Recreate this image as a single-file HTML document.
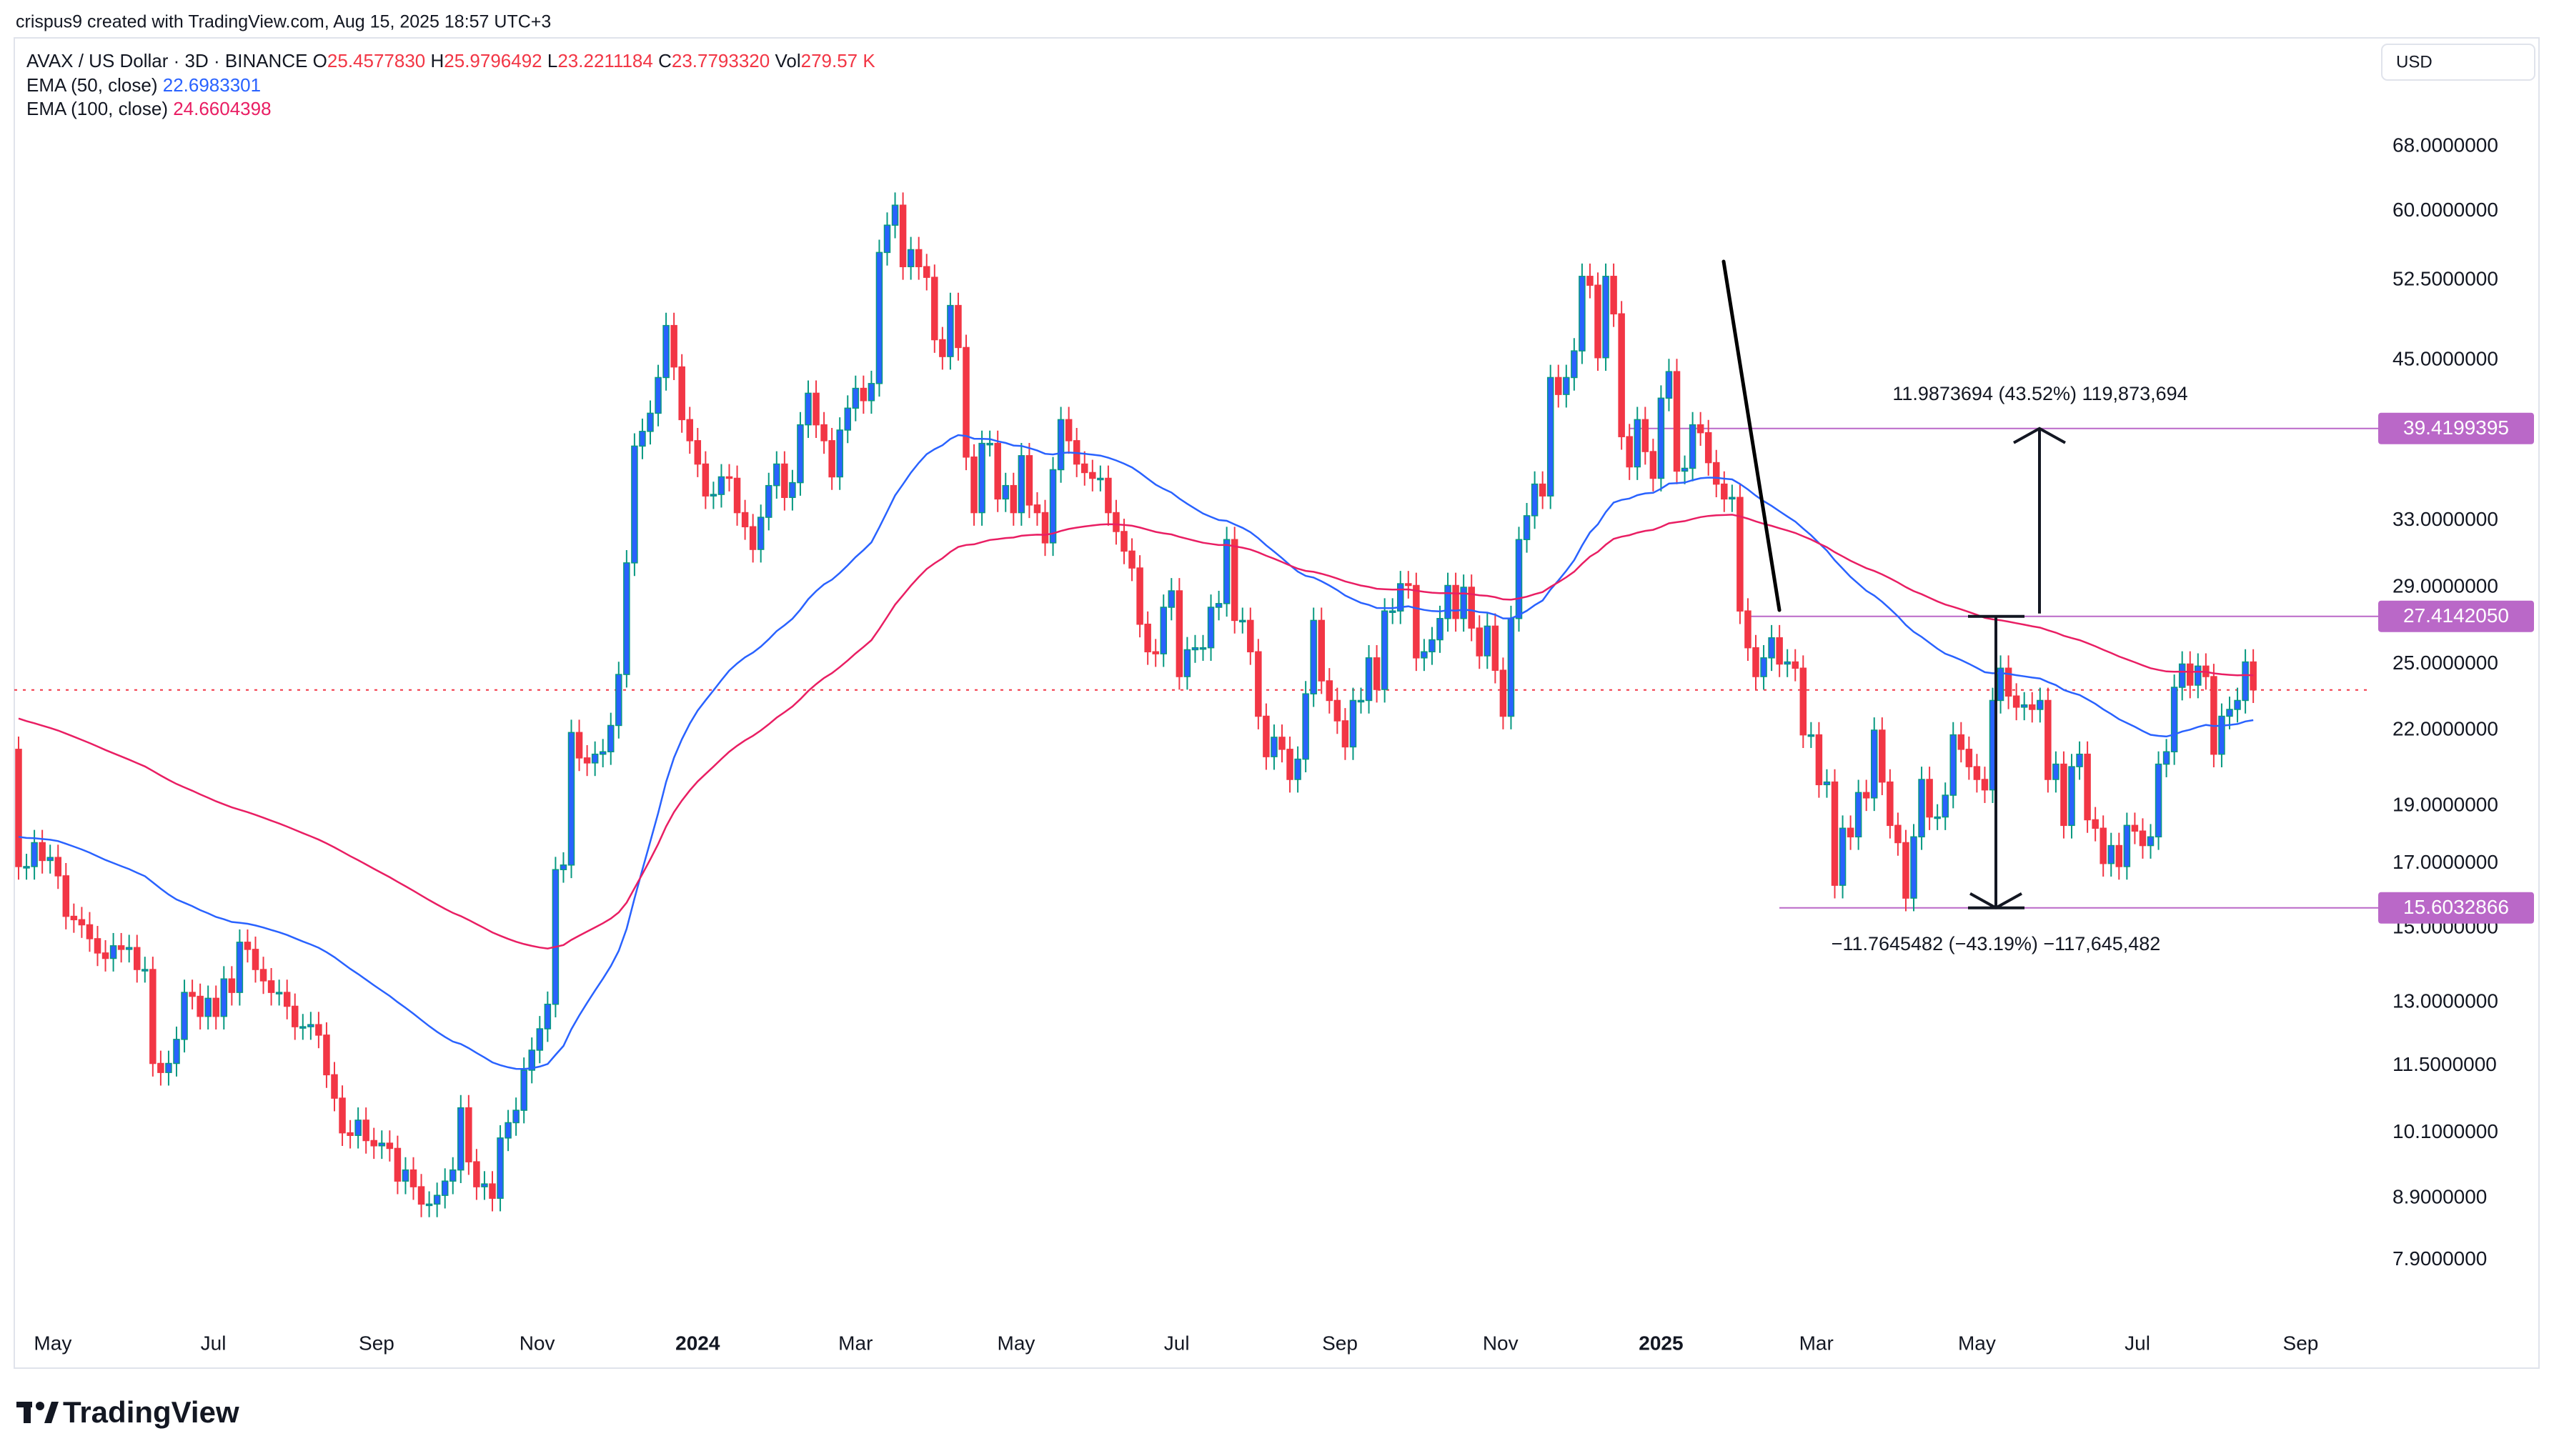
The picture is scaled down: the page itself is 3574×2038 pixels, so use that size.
<!DOCTYPE html>
<html><head><meta charset="utf-8"><style>
html,body{margin:0;padding:0;background:#fff;}
svg{display:block;font-family:"Liberation Sans",sans-serif;}
</style></head><body>
<svg id="chart" width="3574" height="2038" viewBox="0 0 3574 2038" xmlns="http://www.w3.org/2000/svg">
<rect x="0" y="0" width="3574" height="2038" fill="#ffffff"/>
<text x="22" y="32" font-size="25" fill="#131722" dominant-baseline="middle">crispus9 created with TradingView.com, Aug 15, 2025 18:57 UTC+3</text>
<rect x="20" y="53" width="3533" height="1862" fill="none" stroke="#e0e3eb" stroke-width="2"/>
<g id="grid"></g>
<text x="37" y="87" font-size="26" fill="#131722" dominant-baseline="middle">AVAX / US Dollar · 3D · BINANCE  O<tspan fill="#f23645">25.4577830</tspan>  H<tspan fill="#f23645">25.9796492</tspan>  L<tspan fill="#f23645">23.2211184</tspan>  C<tspan fill="#f23645">23.7793320</tspan>  Vol<tspan fill="#f23645">279.57 K</tspan></text>
<text x="37" y="121" font-size="26" fill="#131722" dominant-baseline="middle">EMA (50, close)  <tspan fill="#2962ff">22.6983301</tspan></text>
<text x="37" y="154" font-size="26" fill="#131722" dominant-baseline="middle">EMA (100, close)  <tspan fill="#e91e63">24.6604398</tspan></text>
<rect x="3333" y="62" width="214" height="50" rx="8" fill="#fff" stroke="#e0e3eb" stroke-width="2"/>
<text x="3353" y="88" font-size="24" fill="#131722" dominant-baseline="middle">USD</text>
<g>
<rect x="23" y="1962" width="22" height="8" fill="#131722"/>
<rect x="33" y="1962" width="10" height="30" fill="#131722"/>
<circle cx="56" cy="1968" r="6" fill="#131722"/>
<polygon points="62,1992 72,1962 82,1962 72,1992" fill="#131722"/>
<text x="88" y="1980" font-size="42" font-weight="bold" fill="#131722" dominant-baseline="middle">TradingView</text>
</g>
</svg>
<script>
const closes = [
16.9,16.9,17.7,17.1,17.2,16.6,15.35,15.25,15.1,14.7,
14.3,14.15,14.5,14.4,14.45,13.85,13.85,11.55,11.35,11.55,
12.1,13.25,13.15,12.65,13.1,12.65,13.6,13.25,14.6,14.4,
13.85,13.55,13.25,13.25,12.9,12.4,12.4,12.45,12.2,11.3,
10.8,10.1,10.05,10.35,9.95,9.85,9.9,9.8,9.2,9.4,
9.1,8.8,8.8,8.95,9.2,9.4,10.6,9.55,9.1,9.15,
8.9,10.0,10.3,10.55,11.4,11.85,12.35,12.95,16.8,16.95,
21.9,20.85,20.65,21.0,21.1,22.2,24.5,30.4,38.1,39.2,
40.6,43.5,48.1,44.4,40.1,38.5,36.8,34.6,34.7,35.9,
35.8,33.5,32.6,31.2,33.2,35.3,36.8,34.5,35.5,39.7,
42.2,39.7,38.5,35.9,39.3,41.0,42.6,41.6,43.0,55.4,
58.4,60.7,53.9,55.7,53.9,52.8,46.8,45.3,50.0,46.1,
37.3,33.5,38.3,38.3,34.4,35.3,33.5,37.4,34.0,33.5,
31.6,36.4,40.1,38.5,36.8,36.2,35.8,35.8,33.5,32.3,
31.1,30.1,27.0,25.6,25.5,27.9,28.8,24.4,25.7,25.8,
25.8,27.9,28.1,31.8,27.2,27.2,25.6,
22.6,20.9,21.7,21.2,20.0,20.8,23.6,27.2,24.2,23.3,
22.4,21.3,23.3,23.3,25.3,23.8,27.7,27.7,29.2,29.1,
25.3,25.6,26.2,27.3,29.1,27.3,29.0,26.8,25.4,26.9,
24.7,22.6,27.3,31.8,33.3,35.4,34.6,43.5,42.1,43.5,
45.8,52.9,52.0,45.2,52.9,49.2,38.8,36.6,40.1,37.7,
35.8,41.8,44.0,36.3,36.5,39.7,39.1,36.9,35.4,34.4,
34.5,27.7,25.8,24.4,25.3,26.3,25.0,25.1,24.8,21.8,
21.8,19.8,19.9,16.3,18.2,17.9,19.5,
19.3,22.0,19.9,18.3,17.7,15.9,17.9,20.0,18.6,18.6,
19.4,21.8,21.2,20.5,20.0,19.6,23.3,24.8,23.5,23.0,
23.1,22.9,23.3,20.0,20.6,18.3,20.5,21.0,18.5,18.2,
17.0,17.6,16.9,18.3,18.1,17.6,17.9,20.6,21.1,23.9,
25.0,24.0,24.9,24.4,21.0,22.6,22.9,23.3,25.1,23.78
];
const firstOpen = 21.2;
const emaSeeds = [17.9, 22.5];
const priceTicks = [68,60,52.5,45,33,29,25,22,19,17,15,13,11.5,10.1,8.9,7.9];
const timeTickDates = ["2023-05-01","2023-07-01","2023-09-01","2023-11-01","2024-01-01","2024-03-01","2024-05-01","2024-07-01","2024-09-01","2024-11-01","2025-01-01","2025-03-01","2025-05-01","2025-07-01","2025-09-01"];
const timeTickLabels = ["May","Jul","Sep","Nov","2024","Mar","May","Jul","Sep","Nov","2025","Mar","May","Jul","Sep"];
const levels = [39.4199395, 27.4142050, 15.6032866];
const levelLabels = ["39.4199395","27.4142050","15.6032866"];
const lastPrice = 23.7793320;
const lastDate = "2025-08-14";

const NS = "http://www.w3.org/2000/svg";
const svg = document.getElementById('chart');
const g = document.getElementById('grid');
const N = closes.length;
const X0 = 26, STEP = 11.05;
function xOf(i){ return X0 + i*STEP; }
function yOf(p){ return 205 + 724*Math.log(68/p); }
function xOfDate(s){
  const d = (Date.parse(lastDate) - Date.parse(s))/86400000;
  return xOf(N-1) - d/3*STEP;
}
function mk(tag, attrs, parent){
  const e = document.createElementNS(NS, tag);
  for (const k in attrs) e.setAttribute(k, attrs[k]);
  (parent||g).appendChild(e);
  return e;
}

priceTicks.forEach(function(p){
  const t = mk('text', {x:3348, y:yOf(p), 'font-size':28, fill:'#131722', 'dominant-baseline':'middle'}, svg);
  
  
  t.textContent = p.toFixed(7);
});
timeTickDates.forEach(function(d, k){
  const isYear = /^\d{4}$/.test(timeTickLabels[k]);
  const t = mk('text', {x:xOfDate(d), y:1882, 'font-size':28, fill:'#131722', 'text-anchor':'middle', 'dominant-baseline':'middle', 'font-weight': isYear?'bold':'normal'}, svg);
  
  
  t.textContent = timeTickLabels[k];
});

const lp = mk('line', {x1:20, x2:3320, y1:yOf(lastPrice), y2:yOf(lastPrice), stroke:'#f23645', 'stroke-width':2, 'stroke-dasharray':'4 8'});



const levelStarts = [2280, 2449, 2490];
levels.forEach(function(v, k){
  const l = mk('line', {x1:levelStarts[k], x2:3328, y1:yOf(v), y2:yOf(v), stroke:'#ba68c8', 'stroke-width':2});
  
  
});

for (let i=0;i<N;i++){
  const o = i===0 ? firstOpen : closes[i-1];
  const c = closes[i];
  const up = c >= o;
  const hi = Math.max(o,c)*1.025, lo = Math.min(o,c)*0.975;
  const x = xOf(i);
  const col = up ? '#089981' : '#f23645';
  const w = mk('line', {x1:x, x2:x, y1:yOf(hi), y2:yOf(lo), stroke:col, 'stroke-width':2});
  
  
  const yt = yOf(Math.max(o,c)), yb = yOf(Math.min(o,c));
  const b = mk('rect', {x:x-4, y:yt, width:8, height:Math.max(2, yb-yt), fill: up?'#2962ff':'#f23645', stroke:col, 'stroke-width':1.5});
  
  
}

function ema(period, seed){
  const a = 2/(period+1); let e = seed; const out=[];
  for (let i=0;i<N;i++){ e = i===0 ? seed : e + a*(closes[i]-e); out.push(e); }
  return out;
}
[[50,emaSeeds[0],'#2962ff','ema50-line'],[100,emaSeeds[1],'#e91e63','ema100-line']].forEach(function(s){
  const v = ema(s[0], s[1]);
  const d = v.map(function(p,i){ return (i?'L':'M')+xOf(i).toFixed(1)+' '+yOf(p).toFixed(1); }).join(' ');
  const pth = mk('path', {d:d, fill:'none', stroke:s[2], 'stroke-width':2.5});
  
  
});

const tl = mk('line', {x1:2412, y1:366, x2:2490, y2:854, stroke:'#000', 'stroke-width':5, 'stroke-linecap':'round'});



const yTop = yOf(levels[0]), yMid = yOf(levels[1]), yBot = yOf(levels[2]);
const m1 = mk('path', {d:'M2754 '+yMid+' H2833 M2793 '+yMid+' V'+yBot+' M2754 '+yBot+' H2833 M2757 '+(yBot-20)+' L2793 '+yBot+' L2829 '+(yBot-20), fill:'none', stroke:'#131722', 'stroke-width':4});


const m2 = mk('path', {d:'M2854 '+(yMid-4)+' V'+yTop+' M2818 '+(yTop+20)+' L2854 '+yTop+' L2890 '+(yTop+20), fill:'none', stroke:'#131722', 'stroke-width':4});


const t1 = mk('text', {x:2855, y:yTop-47, 'font-size':27, fill:'#131722', 'text-anchor':'middle', 'dominant-baseline':'middle'});


t1.textContent = '11.9873694 (43.52%) 119,873,694';
const t2 = mk('text', {x:2793, y:yBot+52, 'font-size':27, fill:'#131722', 'text-anchor':'middle', 'dominant-baseline':'middle'});


t2.textContent = '\u221211.7645482 (\u221243.19%) \u2212117,645,482';

levels.forEach(function(v, k){
  const r = mk('rect', {x:3328, y:yOf(v)-22, width:218, height:44, rx:4, fill:'#ba68c8'}, svg);
  
  
  const t = mk('text', {x:3437, y:yOf(v)+1, 'font-size':28, fill:'#fff', 'text-anchor':'middle', 'dominant-baseline':'middle'}, svg);
  
  
  t.textContent = levelLabels[k];
});
</script>
</body></html>
